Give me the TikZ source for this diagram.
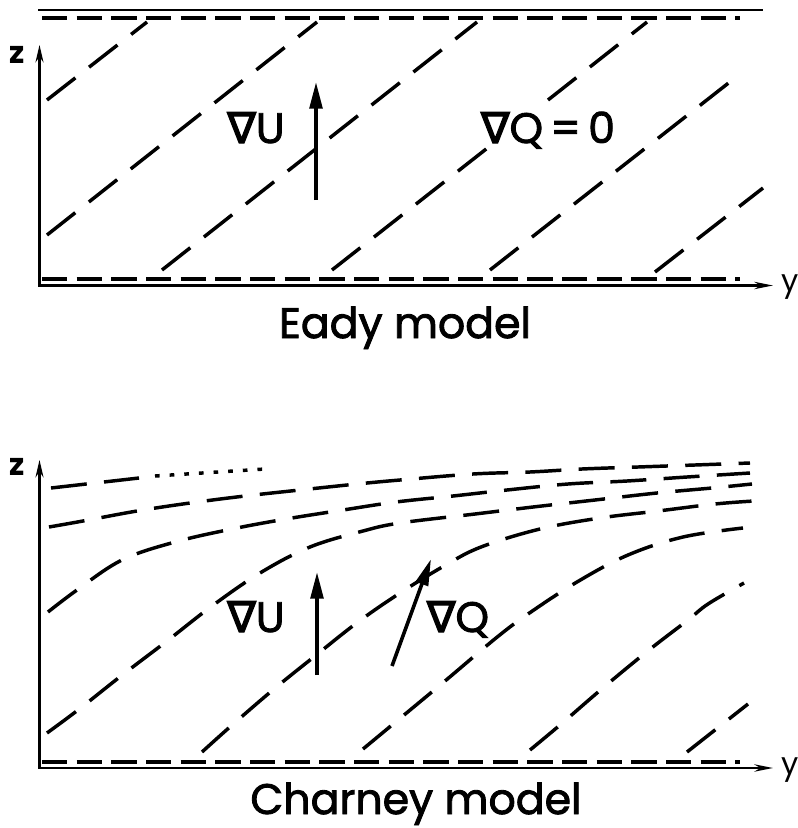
\documentclass[tikz,border=0pt]{standalone}
\usepackage{fontspec}
\setmainfont{Poppins}[FakeBold=2]
\newfontfamily\symfont{DejaVu Sans}[FakeBold=3]
\newfontfamily\zfont{Poppins}
\usetikzlibrary{arrows.meta}
\begin{document}
\begin{tikzpicture}[x=0.75pt,y=-0.75pt,
  axis/.style={line width=1.8pt},
  axtip/.style={line width=1.8pt,{Stealth[length=13pt,width=6pt]}-{Stealth[length=14pt,width=5.5pt]}},
  iso/.style={line width=2.6pt, dash pattern=on 27pt off 13pt},
  bnd/.style={line width=2.5pt, dash pattern=on 19pt off 7pt},
  dotline/.style={line width=2.6pt, dash pattern=on 3.5pt off 7.5pt},
  vec/.style={line width=2.7pt, -{Triangle[length=20pt,width=9.5pt]}},
  lab/.style={font=\fontsize{32}{38}\selectfont, inner sep=0pt, anchor=base},
  axlab/.style={font=\zfont\bfseries\fontsize{23}{26}\selectfont, inner sep=0pt, anchor=base},
  ylab/.style={font=\zfont\fontsize{23}{26}\selectfont, inner sep=0pt, anchor=base west},
]
\useasboundingbox (0,0) rectangle (797,828);

% ================= Eady model =================
\draw[axis] (38,10) -- (763,10);
\draw[bnd] (42,18) -- (740,18);
\draw[bnd] (42,279) -- (740,279);
\draw[axtip] (39.5,45) -- (39.5,285.5) -- (773,285.5);
\node[axlab] (z1) at (17,63) {z};
\node[ylab] (y1) at (781,291) {y};

% sloping dashed lines
\draw[iso] (47,100) -- (147,22);
\draw[iso] (47,235) -- (317,22);
\draw[iso] (162,270) -- (477,22);
\draw[iso] (332,270) -- (490,146);
\draw[iso] (548,100) -- (647,22);
\draw[iso] (490,270) -- (740,74);
\draw[iso] (655,272) -- (763,188);

\draw[vec] (316,200) -- (316,82);
\node[lab] (gu1) at (256,143) {{\symfont ∇}U};
\node[lab] (gq1) at (548,143) {{\symfont ∇}Q\,=\,0};
\node[lab] (eady) at (405,338) {Eady model};

% ================= Charney model =================
\draw[bnd] (42,762) -- (740,762);
\draw[axtip] (39.5,460) -- (39.5,768) -- (773,768);
\node[axlab] (z2) at (17,475) {z};
\node[ylab] (y2) at (781,774) {y};

\draw[iso] (51,488) -- (139,478);
\draw[dotline] (155,476) -- (265,469);

\draw[iso] plot[smooth, tension=0.6] coordinates {(49,527) (83,521) (137,511) (190,503) (245,496) (300,490) (357,484) (400,480) (473,474) (530,472) (582,469) (638,467) (695,465) (750,463)};
\draw[iso] plot[smooth, tension=0.6] coordinates {(48,612) (77,590) (122,560) (175,542) (232,529) (286,519) (343,510) (396,502) (453,496) (507,490) (568,484) (627,481) (687,477) (750,473)};
\draw[iso] plot[smooth, tension=0.6] coordinates {(47,733) (78,710) (121,676) (167,641) (212,606) (260,573) (310,547) (363,531) (400,523) (475,514) (533,507) (595,500) (657,493) (712,488) (752,484)};
\draw[iso] plot[smooth, tension=0.6] coordinates {(202,752) (231,726) (274,689) (315,656) (358,622) (400,593) (444,566) (481,547) (540,529) (600,518) (658,511) (715,504) (754,501)};
\draw[iso] plot[smooth, tension=0.6] coordinates {(363,749) (392,725) (445,681) (496,638) (528,614) (577,582) (628,555) (683,537) (743,528)};
\draw[iso] plot[smooth, tension=0.6] coordinates {(530,750) (560,725) (604,687) (649,650) (688,620) (708,604) (744,583)};
\draw[iso] (687,752) -- (748,704);

\draw[vec] (317,675) -- (317,572);
\draw[vec] (392,666) -- (431,559);
\node[lab] (gu2) at (256,632) {{\symfont ∇}U};
\node[lab] (gq2) at (458,632) {{\symfont ∇}Q};
\node[lab] (charney) at (416,814) {Charney model};
\end{tikzpicture}
\end{document}
